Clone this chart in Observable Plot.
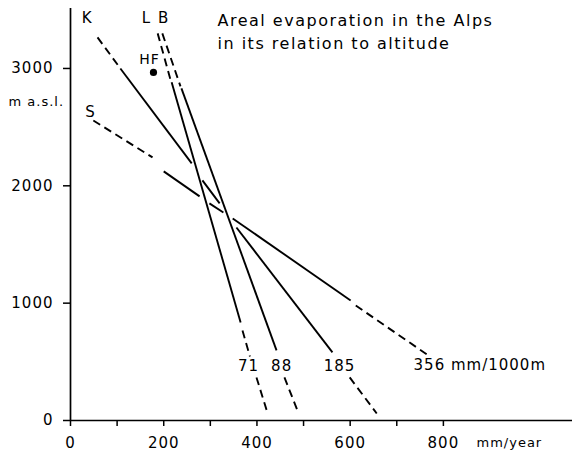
<!DOCTYPE html>
<html>
<head>
<meta charset="utf-8">
<script src="https://cdn.jsdelivr.net/npm/d3@7"></script>
<script src="https://cdn.jsdelivr.net/npm/@observablehq/plot@0.6"></script>
<style>
  html, body { margin: 0; padding: 0; background: #fff; }
</style>
</head>
<body>
<div id="chart"></div>
<script>
// ---- data ----
const titleLines = ["Areal evaporation in the Alps", "in its relation to altitude"];
const yUnit = "m a.s.l.";
const xUnit = "mm/year";

const xTicks = [0, 100, 200, 300, 400, 500, 600, 700, 800];
const xTickLabels = ["0", "", "200", "", "400", "", "600", "", "800"];
const yTicks = [0, 1000, 2000, 3000];
const yTickLabels = ["0", "1000", "2000", "3000"];

// solid parts of the lines (evaporation mm/year, altitude m)
const solidSegs = [
  {line: "K", x1: 107, y1: 3000, x2: 260, y2: 2191},
  {line: "K", x1: 283, y1: 2046, x2: 320, y2: 1850},
  {line: "K", x1: 356, y1: 1645, x2: 562, y2: 580},
  {line: "S", x1: 200, y1: 2123, x2: 277, y2: 1910},
  {line: "S", x1: 298, y1: 1850, x2: 328, y2: 1773},
  {line: "S", x1: 348, y1: 1722, x2: 601, y2: 1023},
  {line: "L", x1: 217, y1: 2882, x2: 365, y2: 835},
  {line: "B", x1: 238, y1: 2830, x2: 442, y2: 597}
];
// dashed (extrapolated) parts
const dashedSegs = [
  {line: "K", x1: 58, y1: 3265, x2: 107, y2: 3000},
  {line: "K", x1: 599, y1: 367, x2: 657, y2: 60},
  {line: "S", x1: 49, y1: 2557, x2: 176, y2: 2242},
  {line: "S", x1: 612, y1: 980, x2: 768, y2: 554},
  {line: "L", x1: 187, y1: 3299, x2: 215, y2: 2898},
  {line: "L", x1: 369, y1: 767, x2: 385, y2: 545},
  {line: "L", x1: 399, y1: 367, x2: 423, y2: 60},
  {line: "B", x1: 197, y1: 3299, x2: 236, y2: 2847},
  {line: "B", x1: 459, y1: 367, x2: 487, y2: 85}
];

const stationNames = ["K", "L", "B", "S"];
const stationX = [36, 163, 200, 43];
const stationY = [3425, 3425, 3425, 2630];

const gradientLabels = ["71", "88", "185"];
const gradientX = [382, 453, 577];
const gradientY = [460, 460, 460];
const steepestLabel = [{s: "356 mm/1000m", x: 736, y: 470}];

const hfPoint = [{name: "HF", x: 178, y: 2966}];

// ---- build ----
const stations = stationNames.map((s, i) => ({s, x: stationX[i], y: stationY[i]}));
const grads = gradientLabels.map((s, i) => ({s, x: gradientX[i], y: gradientY[i]}));

const chart = Plot.plot({
  width: 572,
  height: 454,
  marginLeft: 70,
  marginRight: 0,
  marginTop: 8,
  marginBottom: 34,
  x: {domain: [0, 1077]},
  y: {domain: [0, 3511]},
  style: {fontFamily: "DejaVu Sans", fontSize: "15px", background: "white", color: "black", letterSpacing: "1px"},
  marks: [
    Plot.ruleX([0], {stroke: "black", strokeWidth: 1.7}),
    Plot.ruleY([0], {stroke: "black", strokeWidth: 1.7}),
    Plot.axisX({ticks: xTicks, tickFormat: d => xTickLabels[xTicks.indexOf(d)], tickSize: 6, tickPadding: 11, label: null, stroke: "black", strokeWidth: 1.5, strokeOpacity: 1, fill: "black", fontSize: 15}),
    Plot.axisY({ticks: yTicks, tickFormat: d => yTickLabels[yTicks.indexOf(d)], tickSize: 7, tickPadding: 10, label: null, stroke: "black", strokeWidth: 1.5, strokeOpacity: 1, fill: "black", fontSize: 15}),
    Plot.link(solidSegs, {x1: "x1", y1: "y1", x2: "x2", y2: "y2", stroke: "black", strokeWidth: 1.9}),
    Plot.link(dashedSegs, {x1: "x1", y1: "y1", x2: "x2", y2: "y2", stroke: "black", strokeWidth: 1.9, strokeDasharray: "8,5"}),
    Plot.dot(hfPoint, {x: "x", y: "y", r: 3.6, fill: "black", stroke: null}),
    Plot.text(hfPoint, {x: "x", y: "y", text: "name", dx: -4, dy: -13, fontSize: 14, fill: "black"}),
    Plot.text(stations, {x: "x", y: "y", text: "s", fontSize: 15, fill: "black"}),
    Plot.text(grads, {x: "x", y: "y", text: "s", textAnchor: "middle", fontSize: 15, fill: "black"}),
    Plot.text(steepestLabel, {x: "x", y: "y", text: "s", textAnchor: "start", fontSize: 15, fill: "black"}),
    Plot.text([titleLines.join("\n")], {frameAnchor: "top-left", dx: 147, dy: 1, lineAnchor: "top", textAnchor: "start", lineHeight: 1.45, fontSize: 16, fill: "black"}),
    Plot.text([yUnit], {frameAnchor: "top-left", dx: -62, dy: 93, lineAnchor: "middle", textAnchor: "start", fontSize: 13, fill: "black"}),
    Plot.text([xUnit], {frameAnchor: "bottom-left", dx: 406, dy: 22, lineAnchor: "middle", textAnchor: "start", fontSize: 13, fill: "black"})
  ]
});
// widen the title lettering slightly, as in the original lettering
chart.querySelectorAll("text").forEach(t => {
  if (t.textContent.startsWith("Areal") || t.textContent.startsWith("in its")) t.setAttribute("letter-spacing", "1.5");
});
document.getElementById("chart").appendChild(chart);
</script>
</body>
</html>
